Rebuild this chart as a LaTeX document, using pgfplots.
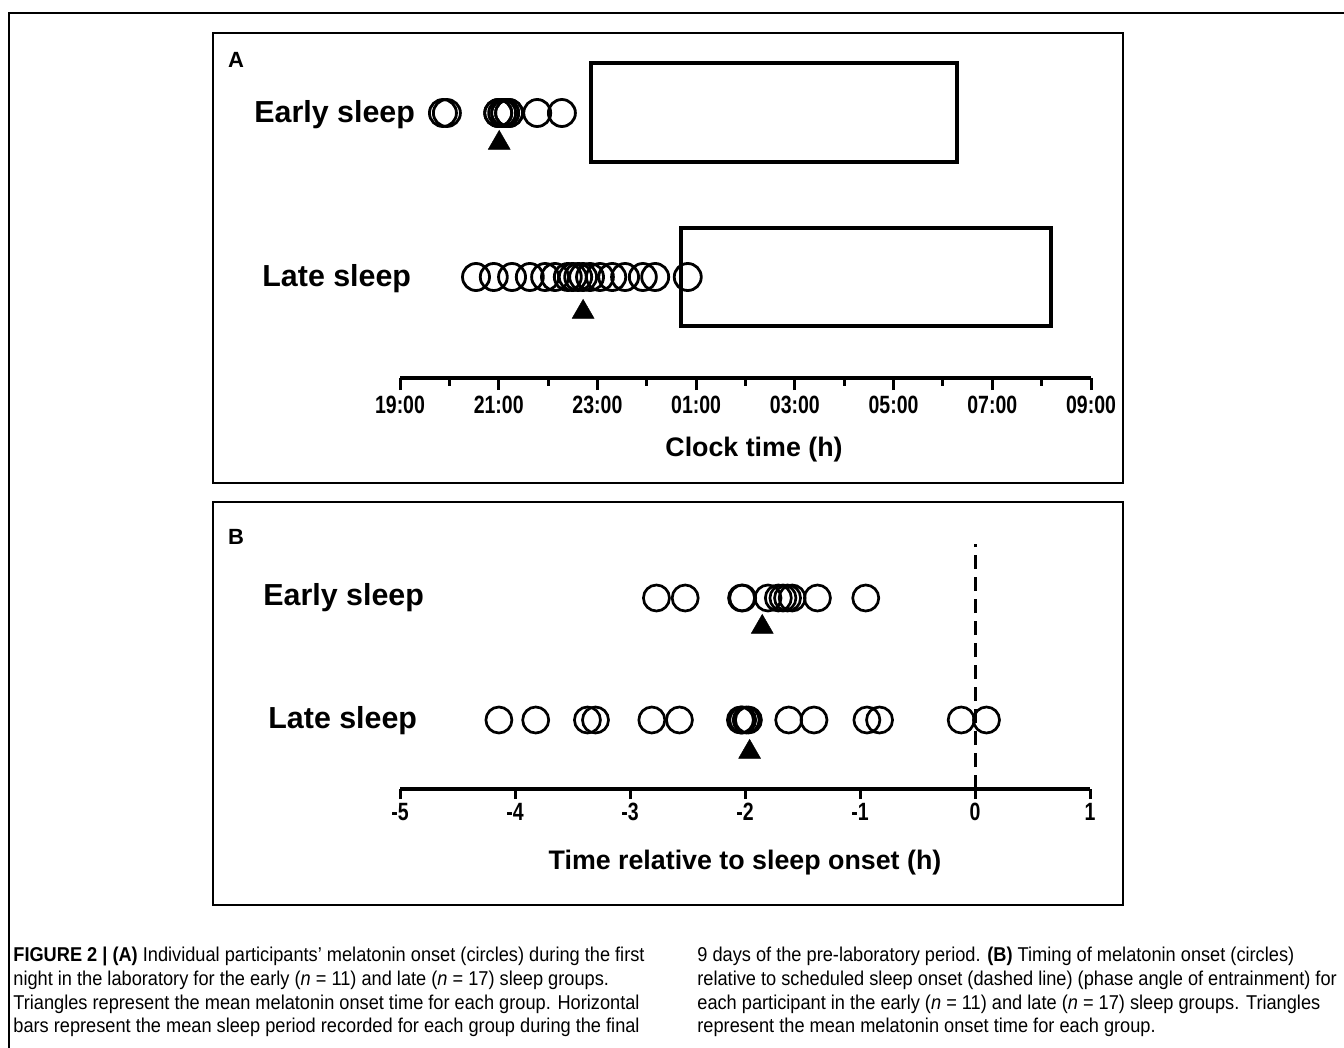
\documentclass[border=0pt]{standalone}
\usepackage{pgfplots}
\pgfplotsset{compat=1.18}
\usepackage{fontspec}
\setmainfont{Liberation Sans}
\newfontfamily\narrowfont[FakeStretch=0.78]{Liberation Sans}
\newfontfamily\capfont[FakeStretch=0.91]{Liberation Sans}
\begin{document}
\begin{tikzpicture}[x=0.5pt,y=-0.5pt]
\useasboundingbox (0,0) rectangle (1344,1048);
\clip (0,0) rectangle (1344,1048);
\draw[line width=0.6pt] (9,13) rectangle (1400,1100);
\draw[line width=0.8pt] (213,33) rectangle (1123,483);
\draw[line width=0.8pt] (213,502) rectangle (1123,905);
\node[font=\bfseries\fontsize{11}{12}\selectfont] at (236,60) {A};
\node[font=\bfseries\fontsize{11}{12}\selectfont] at (236,537) {B};
\node[anchor=west,inner sep=0pt,font=\bfseries\fontsize{15.2}{18}\selectfont] at (254,115) {Early sleep};
\node[anchor=west,inner sep=0pt,font=\bfseries\fontsize{15.2}{18}\selectfont] at (262,279) {Late sleep};
\node[anchor=west,inner sep=0pt,font=\bfseries\fontsize{15.2}{18}\selectfont] at (263,598) {Early sleep};
\node[anchor=west,inner sep=0pt,font=\bfseries\fontsize{15.2}{18}\selectfont] at (268,721) {Late sleep};
\node[inner sep=0pt,font=\bfseries\fontsize{13.4}{16}\selectfont] at (754,450) {Clock time (h)};
\node[inner sep=0pt,font=\bfseries\fontsize{13.4}{16}\selectfont] at (745,863) {Time relative to sleep onset (h)};
\coordinate (OA) at (400,378);
\coordinate (OB) at (400,789);
\begin{axis}[at={(OA)}, anchor=south west, scale only axis,
  width=345.5pt, height=165pt, xmin=0, xmax=14, ymin=0, ymax=330,
  enlargelimits=false, clip=false,
  axis x line=bottom, axis y line=none,
  x axis line style={-, line width=1.7pt},
  xtick={0,2,...,14},
  xticklabels={19:00,21:00,23:00,01:00,\raisebox{-1.5pt}{03:00},05:00,07:00,09:00},
  minor xtick={1,3,...,13},
  tick align=outside, major tick length=6pt, minor tick length=4pt,
  every tick/.style={black, line width=1.5pt},
  every minor tick/.style={black, line width=1.5pt},
  xticklabel style={font=\narrowfont\bfseries\fontsize{12.5}{14}\selectfont, inner sep=0pt, yshift=-3pt},
]
\addplot[black, line width=2pt, line join=miter] coordinates {(7.5,315) (11.28,315) (11.28,216) (3.87,216) (3.87,315) (7.6,315)};
\addplot[black, line width=2pt, line join=miter] coordinates {(9.4,150) (13.19,150) (13.19,52) (5.69,52) (5.69,150) (9.5,150)};
\addplot[only marks, mark=o, mark size=6.75pt, line width=1.4pt, black] coordinates {
(0.87,265) (0.95,265) (1.99,265) (1.99,265) (2.07,265) (2.13,265) (2.13,265) (2.21,265) (2.21,265) (2.78,265) (3.28,265)};
\addplot[only marks, mark=o, mark size=6.75pt, line width=1.4pt, black] coordinates {
(1.54,101) (1.90,101) (2.27,101) (2.63,101) (2.94,101) (3.14,101) (3.40,101) (3.50,101) (3.61,101) (3.71,101) (3.85,101) (4.05,101) (4.30,101) (4.56,101) (4.92,101) (5.17,101) (5.83,101)};
\addplot[only marks, mark=triangle*, mark size=6.35pt, line width=0.2pt, black] coordinates {(2.01,235) (3.71,66)};
\end{axis}
\begin{axis}[at={(OB)}, anchor=south west, scale only axis,
  width=345pt, height=124.5pt, xmin=-5, xmax=1, ymin=0, ymax=249,
  enlargelimits=false, clip=false,
  axis x line=bottom, axis y line=none,
  x axis line style={-, line width=1.7pt},
  xtick={-5,-4,...,1},
  xticklabels={-5,-4,-3,-2,-1,0,1},
  tick align=outside, major tick length=5pt,
  every tick/.style={black, line width=1.5pt},
  xticklabel style={font=\narrowfont\bfseries\fontsize{12.5}{14}\selectfont, inner sep=0pt, yshift=-2pt},
]
\addplot[black, line width=1.5pt, dash pattern=on 7pt off 4pt] coordinates {(0,0) (0,245)};
\addplot[only marks, mark=o, mark size=6.5pt, line width=1.35pt, black] coordinates {
(-2.77,191) (-2.52,191) (-2.03,191) (-2.02,191) (-1.80,191) (-1.71,191) (-1.67,191) (-1.63,191) (-1.59,191) (-1.37,191) (-0.95,191)};
\addplot[only marks, mark=o, mark size=6.5pt, line width=1.35pt, black] coordinates {
(-4.14,69) (-3.82,69) (-3.37,69) (-3.30,69) (-2.81,69) (-2.57,69) (-2.04,69) (-2.03,69) (-2.02,69) (-1.99,69) (-1.97,69) (-1.62,69) (-1.40,69) (-0.94,69) (-0.83,69) (-0.12,69) (0.10,69)};
\addplot[only marks, mark=triangle*, mark size=6.35pt, line width=0.2pt, black] coordinates {(-1.85,162) (-1.96,37)};
\end{axis}
\begin{scope}[every node/.style={anchor=base west, inner sep=0pt, font=\capfont\fontsize{10}{12}\selectfont}]
\node at (13,961) {\textbf{FIGURE 2 | (A)} Individual participants’ melatonin onset (circles) during the first};
\node at (13,985) {night in the laboratory for the early (\textit{n} = 11) and late (\textit{n} = 17) sleep groups.};
\node at (13,1009) {Triangles represent the mean melatonin onset time for each group. Horizontal};
\node at (13,1032) {bars represent the mean sleep period recorded for each group during the final};
\node at (697,961) {9 days of the pre-laboratory period. \textbf{(B)} Timing of melatonin onset (circles)};
\node at (697,985) {relative to scheduled sleep onset (dashed line) (phase angle of entrainment) for};
\node at (697,1009) {each participant in the early (\textit{n} = 11) and late (\textit{n} = 17) sleep groups. Triangles};
\node at (697,1032) {represent the mean melatonin onset time for each group.};
\end{scope}
\end{tikzpicture}
\end{document}
